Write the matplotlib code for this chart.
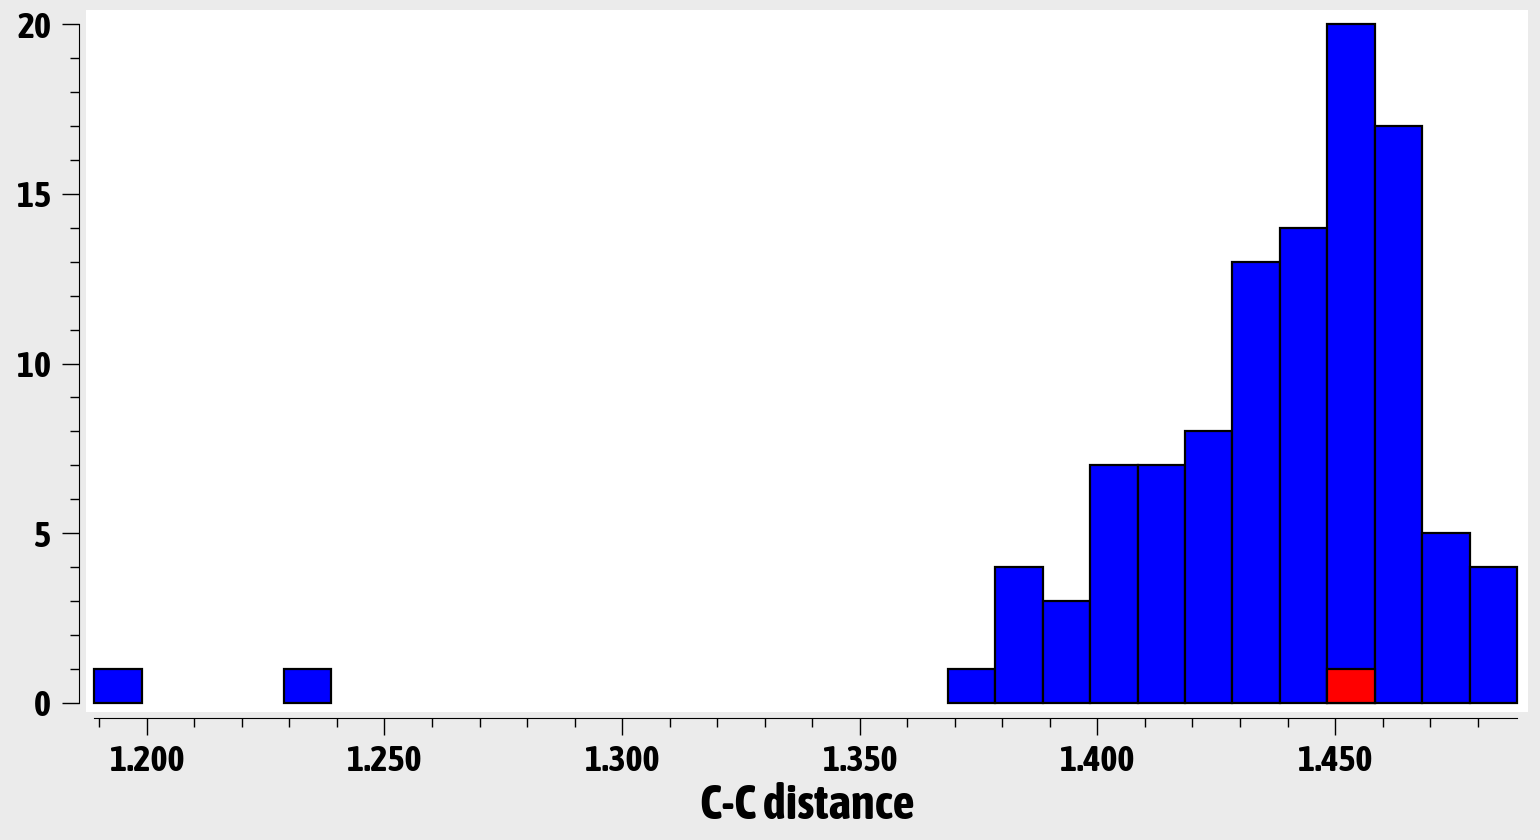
import numpy as np
import matplotlib
matplotlib.use("Agg")
import matplotlib.pyplot as plt
from matplotlib import font_manager
from matplotlib.ticker import MultipleLocator, FormatStrFormatter

# histogram of C-C bond lengths, 30 bins
bin_lo = 1.1889
bin_hi = 1.4883
n_bins = 30
counts = [1, 0, 0, 0, 1, 0, 0, 0, 0, 0,
          0, 0, 0, 0, 0, 0, 0, 0, 1, 4,
          3, 7, 7, 8, 13, 14, 20, 17, 5, 4]
# highlighted value (red)
hl_bin = 26
hl_count = 1

edges = np.linspace(bin_lo, bin_hi, n_bins + 1)
width = edges[1] - edges[0]
counts = np.array(counts)
nz = counts > 0

# pick an upright narrow/condensed bold font if one is around
def _w(f):
    w = f.weight
    if isinstance(w, str):
        w = {'bold': 700, 'heavy': 800, 'black': 900, 'semibold': 600,
             'demibold': 600, 'extra bold': 800}.get(w, 400)
    return w

cands = [f for f in font_manager.fontManager.ttflist
         if ('Narrow' in f.name or 'Condensed' in f.name
             or f.stretch in ('condensed', 'semi-condensed', 'extra-condensed'))
         and _w(f) >= 700 and f.style == 'normal']
cands.sort(key=lambda f: (-_w(f), f.name))
fam = [cands[0].name] if cands else []
plt.rcParams['font.family'] = fam + ['DejaVu Sans']
plt.rcParams['font.stretch'] = 'condensed'
plt.rcParams['font.weight'] = 'bold'
plt.rcParams['font.style'] = 'normal'

fig = plt.figure(figsize=(15.4, 8.4), dpi=100, facecolor='#ebebeb')
ax = fig.add_axes([86/1540, 1 - 712/840, (1528-86)/1540, (712-10)/840])
ax.set_facecolor('white')

ax.bar(edges[:-1][nz], counts[nz], width=width, align='edge', color='#0000ff',
       edgecolor='black', linewidth=1.6)
ax.bar(edges[hl_bin], hl_count, width=width, align='edge', color='#ff0000',
       edgecolor='black', linewidth=1.6)

ax.set_xlim(1.1872, 1.4906)
ax.set_ylim(-0.27, 20.42)

for s in ['top', 'right']:
    ax.spines[s].set_visible(False)
ax.spines['left'].set_position(('outward', 5))
ax.spines['bottom'].set_position(('outward', 4))
ax.spines['left'].set_bounds(0, 20)
ax.spines['bottom'].set_bounds(edges[0], edges[-1])

ax.set_xticks(np.arange(1.20, 1.46, 0.05))
ax.set_xticks(np.arange(1.19, 1.485, 0.01), minor=True)
ax.xaxis.set_major_formatter(FormatStrFormatter('%.3f'))
ax.yaxis.set_major_locator(MultipleLocator(5))
ax.set_yticks(np.arange(0, 21, 1), minor=True)

ax.tick_params(which='major', length=12, width=1, labelsize=26, pad=7)
ax.tick_params(which='minor', length=6.5, width=1)
ax.tick_params(axis='y', which='major', pad=8)

ax.set_xlabel('C-C distance', fontsize=35, fontweight='bold', labelpad=3)

fig.savefig('out.png', dpi=100, facecolor=fig.get_facecolor())
